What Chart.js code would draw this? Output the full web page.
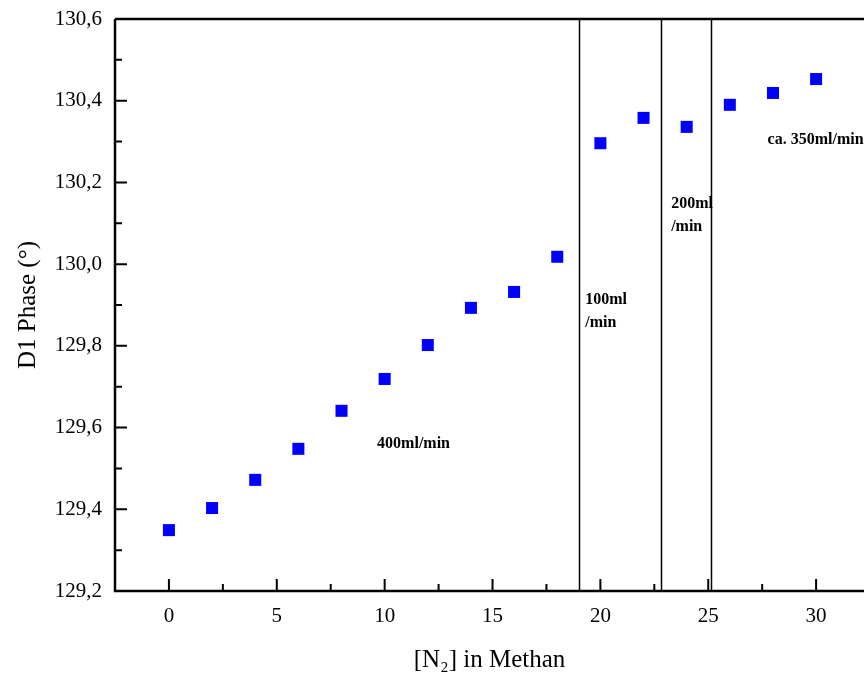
<!DOCTYPE html>
<html>
<head>
<meta charset="utf-8">
<script src="https://cdn.jsdelivr.net/npm/chart.js@4.4.1/dist/chart.umd.min.js"></script>
<style>
  html, body { margin: 0; padding: 0; background: #fff; overflow: hidden; }
  #wrap { width: 864px; height: 675px; }
</style>
</head>
<body>
<div id="wrap"><canvas id="phaseChart"></canvas></div>
<script>
// N2 content in methane and measured D1 phase
const n2Values = [0, 2, 4, 6, 8, 10, 12, 14, 16, 18, 20, 22, 24, 26, 28, 30];
const phaseValues = [129.349, 129.403, 129.472, 129.548, 129.641, 129.719, 129.802, 129.893,
  129.932, 130.018, 130.296, 130.358, 130.336, 130.390, 130.419, 130.453];

// flow rate boundaries (vertical lines)
const flowBreaks = [19.0, 22.8, 25.15];

// annotation texts (x, y in data units)
const flowLabels = [
  { lines: ["400ml/min"], x: 9.65, y: 129.56 },
  { lines: ["100ml", "/min"], x: 19.3, y: 129.912 },
  { lines: ["200ml", "/min"], x: 23.28, y: 130.147 },
  { lines: ["ca. 350ml/min"], x: 27.75, y: 130.304 },
];

const xTicks = [0, 5, 10, 15, 20, 25, 30];
const xMinorTicks = [-2.5, 2.5, 7.5, 12.5, 17.5, 22.5, 27.5, 32.5];
const yTicks = [129.2, 129.4, 129.6, 129.8, 130.0, 130.2, 130.4, 130.6];
const yMinorTicks = [129.3, 129.5, 129.7, 129.9, 130.1, 130.3, 130.5];

const serif = "'Liberation Serif', 'Times New Roman', serif";

// frame, inward ticks, flow lines and labels
const framePlugin = {
  id: "frame",
  afterDatasetsDraw(chart) {
    const { ctx, chartArea: a, scales } = chart;
    const xs = scales.x, ys = scales.y;
    ctx.save();
    ctx.strokeStyle = "#000";

    // flow lines
    ctx.lineWidth = 1.5;
    flowBreaks.forEach((v) => {
      const px = Math.round(xs.getPixelForValue(v)) + 0.5;
      ctx.beginPath();
      ctx.moveTo(px, a.top);
      ctx.lineTo(px, a.bottom);
      ctx.stroke();
    });

    // axes + top border
    ctx.lineWidth = 2.5;
    ctx.beginPath();
    ctx.moveTo(a.left, a.top);
    ctx.lineTo(a.left, a.bottom);
    ctx.lineTo(a.right + 5, a.bottom);
    ctx.moveTo(a.left, a.top);
    ctx.lineTo(a.right + 5, a.top);
    ctx.stroke();

    // inward ticks
    ctx.lineWidth = 2;
    ctx.beginPath();
    xTicks.forEach((v) => {
      const px = xs.getPixelForValue(v);
      ctx.moveTo(px, a.bottom); ctx.lineTo(px, a.bottom - 12);
    });
    xMinorTicks.forEach((v) => {
      const px = xs.getPixelForValue(v);
      ctx.moveTo(px, a.bottom); ctx.lineTo(px, a.bottom - 7);
    });
    yTicks.forEach((v) => {
      const py = ys.getPixelForValue(v);
      ctx.moveTo(a.left, py); ctx.lineTo(a.left + 12, py);
    });
    yMinorTicks.forEach((v) => {
      const py = ys.getPixelForValue(v);
      ctx.moveTo(a.left, py); ctx.lineTo(a.left + 7, py);
    });
    ctx.stroke();

    // labels
    ctx.fillStyle = "#000";
    ctx.font = "bold 16px " + serif;
    ctx.textAlign = "left";
    ctx.textBaseline = "middle";
    flowLabels.forEach((l) => {
      const px = xs.getPixelForValue(l.x);
      const py = ys.getPixelForValue(l.y);
      l.lines.forEach((t, i) => ctx.fillText(t, px, py + i * 23));
    });
    ctx.restore();
  },
};

const ctx = document.getElementById("phaseChart").getContext("2d");
new Chart(ctx, {
  type: "scatter",
  data: {
    datasets: [
      {
        label: "D1 Phase",
        data: n2Values.map((x, i) => ({ x: x, y: phaseValues[i] })),
        pointStyle: "rect",
        pointRadius: 8.5,
        pointHoverRadius: 8.5,
        backgroundColor: "#0000ff",
        borderColor: "#0000ff",
        borderWidth: 0,
      },
    ],
  },
  options: {
    responsive: true,
    maintainAspectRatio: false,
    animation: false,
    layout: { autoPadding: false, padding: { top: 19, right: 0, left: 0, bottom: 0 } },
    plugins: { legend: { display: false }, tooltip: { enabled: false } },
    scales: {
      x: {
        type: "linear",
        min: -2.5,
        max: 32.22,
        grid: { display: false, drawTicks: false },
        border: { display: false },
        afterBuildTicks: (s) => { s.ticks = xTicks.map((v) => ({ value: v })); },
        afterFit: (s) => {
          s.height = 84;
          s.paddingLeft = 0; s.paddingRight = 0;
        },
        ticks: {
          padding: 13,
          color: "#000",
          font: { family: serif, size: 21 },
          maxRotation: 0,
          callback: (v) => String(v),
        },
        title: {
          display: true,
          text: "[N₂] in Methan",
          color: "#000",
          font: { family: serif, size: 25 },
          padding: { top: 8, bottom: 0 },
        },
      },
      y: {
        type: "linear",
        min: 129.2,
        max: 130.6,
        grid: { display: false, drawTicks: false },
        border: { display: false },
        afterBuildTicks: (s) => { s.ticks = yTicks.map((v) => ({ value: v })); },
        afterFit: (s) => {
          s.width = 115;
          s.paddingTop = 0; s.paddingBottom = 0;
        },
        ticks: {
          padding: 13,
          color: "#000",
          font: { family: serif, size: 21 },
          callback: (v) => Number(v).toFixed(1).replace(".", ","),
        },
        title: {
          display: true,
          text: "D1 Phase (°)",
          color: "#000",
          font: { family: serif, size: 25 },
          padding: { top: 13, bottom: 0 },
        },
      },
    },
  },
  plugins: [framePlugin],
});
</script>
</body>
</html>
